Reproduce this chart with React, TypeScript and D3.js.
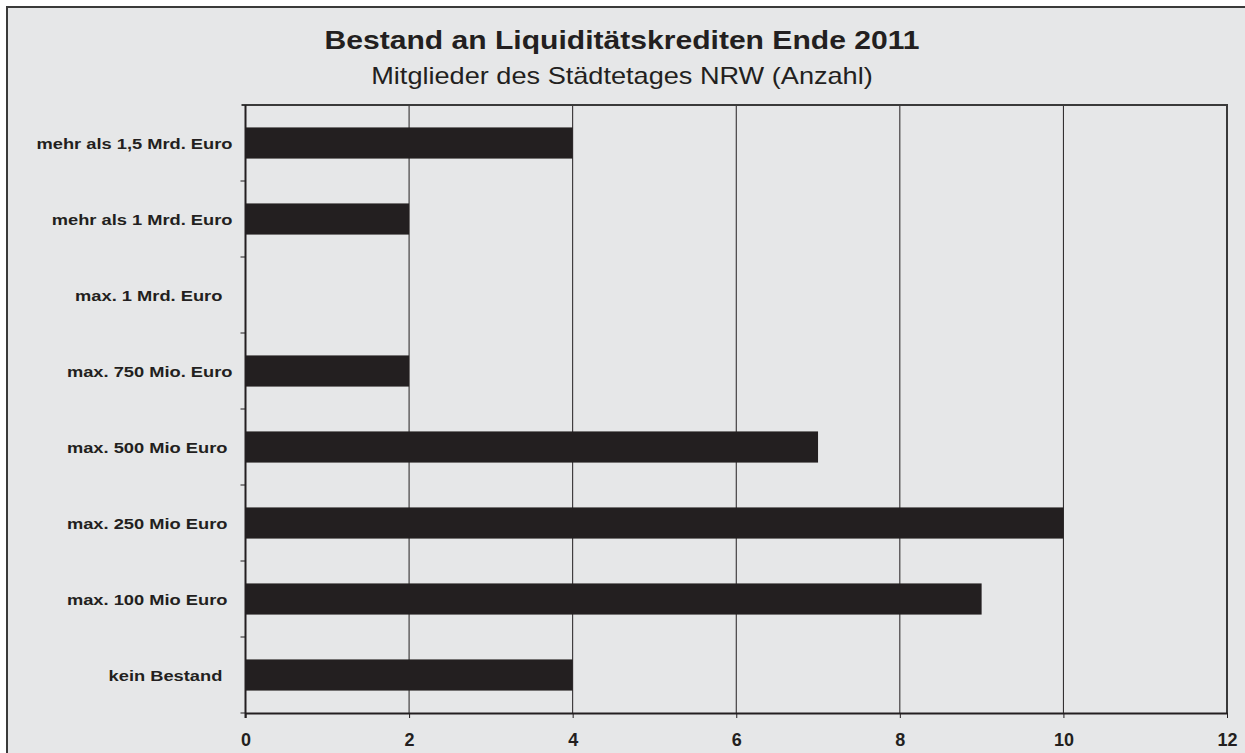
import React, { useEffect, useRef } from "react";
import * as d3 from "d3";

// Data
const categories = [
  "mehr als 1,5 Mrd. Euro",
  "mehr als 1 Mrd. Euro",
  "max. 1 Mrd. Euro\u00a0\u00a0",
  "max. 750 Mio. Euro",
  "max. 500 Mio Euro\u00a0",
  "max. 250 Mio Euro\u00a0",
  "max. 100 Mio Euro\u00a0",
  "kein Bestand\u00a0\u00a0",
];
const counts = [4, 2, 0, 2, 7, 10, 9, 4];
const xTicks = [0, 2, 4, 6, 8, 10, 12];

const title = "Bestand an Liquiditätskrediten Ende 2011";
const subtitle = "Mitglieder des Städtetages NRW (Anzahl)";

const App: React.FC = () => {
  const svgRef = useRef<SVGSVGElement>(null);

  useEffect(() => {
    if (!svgRef.current) return;

    d3.select(svgRef.current).selectAll("*").remove();

    const width = 1245;
    const height = 753;
    const margin = { top: 105, right: 18, bottom: 40, left: 245.5 };
    const innerWidth = width - margin.left - margin.right;
    const innerHeight = 713 - margin.top;
    const font = "'Liberation Sans', Arial, Helvetica, sans-serif";
    const ink = "#231f20";
    const stretch = 1.18; // text in the original is wider than it is tall

    const root = d3
      .select(svgRef.current)
      .attr("width", width)
      .attr("height", height)
      .style("font-family", font);

    // Background panel with frame
    root
      .append("rect")
      .attr("x", 7)
      .attr("y", 7)
      .attr("width", width + 10)
      .attr("height", height + 10)
      .attr("fill", "#e6e7e8")
      .attr("stroke", "#3a3a3a")
      .attr("stroke-width", 2);

    // Titles
    root
      .append("text")
      .attr("transform", `translate(622, 49) scale(${stretch}, 1)`)
      .attr("text-anchor", "middle")
      .style("font-size", "25.5px")
      .style("font-weight", "bold")
      .style("fill", ink)
      .text(title);

    root
      .append("text")
      .attr("transform", `translate(622, 84) scale(${stretch}, 1)`)
      .attr("text-anchor", "middle")
      .style("font-size", "23px")
      .style("fill", ink)
      .text(subtitle);

    const data = categories.map((c, i) => ({ category: c, count: counts[i] }));

    const svg = root
      .append("g")
      .attr("transform", `translate(${margin.left}, ${margin.top})`);

    const xScale = d3.scaleLinear().domain([0, 12]).range([0, innerWidth]);

    const yScale = d3
      .scaleBand()
      .domain(categories)
      .range([0, innerHeight])
      .paddingInner(0.59)
      .paddingOuter(0.295);

    const bandScale = d3.scaleBand().domain(categories).range([0, innerHeight]);

    // Vertical gridlines
    svg
      .selectAll(".grid")
      .data(xTicks.slice(1, -1))
      .enter()
      .append("line")
      .attr("class", "grid")
      .attr("x1", (d) => xScale(d))
      .attr("x2", (d) => xScale(d))
      .attr("y1", 0)
      .attr("y2", innerHeight)
      .attr("stroke", ink)
      .attr("stroke-width", 1);

    // Plot frame top and right
    svg
      .append("path")
      .attr("d", `M-4,0H${innerWidth}V${innerHeight}`)
      .attr("fill", "none")
      .attr("stroke", "#3a3a3a")
      .attr("stroke-width", 2);

    // Bars
    svg
      .selectAll(".bar")
      .data(data)
      .enter()
      .append("rect")
      .attr("class", "bar")
      .attr("x", 0)
      .attr("y", (d) => yScale(d.category) || 0)
      .attr("width", (d) => xScale(d.count))
      .attr("height", yScale.bandwidth())
      .attr("fill", ink);

    // X axis
    const xAxis = svg
      .append("g")
      .attr("transform", `translate(0, ${innerHeight})`)
      .call(d3.axisBottom(xScale).tickValues(xTicks).tickSize(5).tickSizeOuter(0));
    xAxis.select(".domain").attr("stroke", ink).attr("stroke-width", 2);
    xAxis.selectAll(".tick line").attr("stroke", ink);
    xAxis
      .selectAll("text")
      .attr("dy", 0)
      .attr("y", 33)
      .attr("font-size", 18)
      .style("font-size", "18px")
      .style("font-weight", "bold")
      .style("font-family", font)
      .style("fill", ink);

    // Y axis line and ticks at band boundaries
    svg
      .append("line")
      .attr("x1", 0)
      .attr("x2", 0)
      .attr("y1", 0)
      .attr("y2", innerHeight + 5)
      .attr("stroke", ink)
      .attr("stroke-width", 2);

    svg
      .selectAll(".ytick")
      .data(categories)
      .enter()
      .append("line")
      .attr("class", "ytick")
      .attr("x1", -5)
      .attr("x2", 0)
      .attr("y1", (d) => (bandScale(d) || 0) + bandScale.bandwidth())
      .attr("y2", (d) => (bandScale(d) || 0) + bandScale.bandwidth())
      .attr("stroke", ink)
      .attr("stroke-width", 1);

    // Category labels
    svg
      .selectAll(".ylabel")
      .data(categories)
      .enter()
      .append("text")
      .attr("class", "ylabel")
      .attr(
        "transform",
        (d) =>
          `translate(-13, ${(bandScale(d) || 0) + bandScale.bandwidth() / 2}) scale(${stretch}, 1)`
      )
      .attr("dy", "0.4em")
      .attr("text-anchor", "end")
      .style("font-size", "15.5px")
      .style("font-weight", "bold")
      .style("fill", ink)
      .text((d) => d);
  }, []);

  return (
    <svg
      ref={svgRef}
      style={{ position: "absolute", left: 0, top: 0, display: "block" }}
    ></svg>
  );
};

export default App;
